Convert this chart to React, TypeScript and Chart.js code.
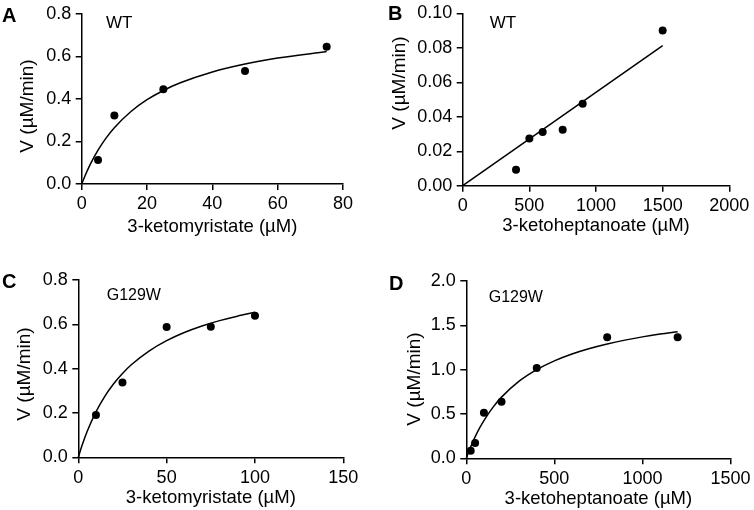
import React, { useEffect, useRef } from "react";
import { Chart, registerables } from "chart.js";
Chart.register(...registerables);

// Panel A: WT, 3-ketomyristate
const aSubstrate = [5, 10, 25, 50, 75];
const aRate = [0.113, 0.322, 0.446, 0.532, 0.646];
const aFitX = [0, 1, 2, 3, 5, 7.5, 10, 15, 20, 25, 30, 40, 50, 60, 75];
const aFitY = [0, 0.038, 0.0725, 0.104, 0.1593, 0.217, 0.265, 0.3402, 0.3965, 0.4402, 0.4751, 0.5273, 0.5646, 0.5925, 0.6233];

// Panel B: WT, 3-ketoheptanoate
const bSubstrate = [400, 500, 600, 750, 900, 1500];
const bRate = [0.0093, 0.0274, 0.0312, 0.0325, 0.0476, 0.0902];
const bFitX = [0, 1500];
const bFitY = [0, 0.0813];

// Panel C: G129W, 3-ketomyristate
const cSubstrate = [10, 25, 50, 75, 100];
const cRate = [0.191, 0.338, 0.588, 0.589, 0.639];
const cFitX = [0, 2, 5, 10, 15, 20, 25, 30, 40, 50, 60, 70, 80, 90, 100];
const cFitY = [0, 0.0507, 0.1164, 0.2052, 0.2752, 0.3317, 0.3783, 0.4174, 0.4793, 0.5262, 0.5629, 0.5924, 0.6166, 0.6369, 0.654];

// Panel D: G129W, 3-ketoheptanoate
const dSubstrate = [25, 50, 100, 200, 400, 800, 1200];
const dRate = [0.0865, 0.173, 0.515, 0.639, 1.019, 1.365, 1.365];
const dFitX = [0, 10, 25, 50, 75, 100, 150, 200, 300, 400, 500, 600, 700, 800, 900, 1000, 1100, 1200];
const dFitY = [0, 0.054, 0.1292, 0.2412, 0.3392, 0.4258, 0.5717, 0.69, 0.8698, 1.0, 1.099, 1.1764, 1.2388, 1.2901, 1.3331, 1.3696, 1.4009, 1.4282];

// Axis ranges / ticks
const aXTicks = { min: 0, max: 80, step: 20 };
const aYTicks = { min: 0, max: 0.8, step: 0.2, dec: 1 };
const bXTicks = { min: 0, max: 2000, step: 500 };
const bYTicks = { min: 0, max: 0.1, step: 0.02, dec: 2 };
const cXTicks = { min: 0, max: 150, step: 50 };
const cYTicks = { min: 0, max: 0.8, step: 0.2, dec: 1 };
const dXTicks = { min: 0, max: 1500, step: 500 };
const dYTicks = { min: 0, max: 2.0, step: 0.5, dec: 1 };

const yTitle = "V (µM/min)";
const xTitleMyr = "3-ketomyristate (µM)";
const xTitleHep = "3-ketoheptanoate (µM)";

const FONT = '"Liberation Sans", Arial, Helvetica, sans-serif';
const W = 377;
const H = 255;

const textPlugin = {
  id: "panelText",
  afterDraw(chart: any, _args: any, o: any) {
    const ctx = chart.ctx;
    const ca = chart.chartArea;
    ctx.save();
    ctx.fillStyle = "#000";
    ctx.textAlign = "left";
    ctx.textBaseline = "alphabetic";
    ctx.font = `bold 20px ${FONT}`;
    ctx.fillText(o.letter, o.letterX, o.letterY);
    ctx.font = `${o.labelSize}px ${FONT}`;
    ctx.fillText(o.label, o.labelX, o.labelY);
    ctx.textAlign = "center";
    ctx.textBaseline = "middle";
    ctx.font = `18.5px ${FONT}`;
    ctx.fillText(o.xTitle, (ca.left + ca.right) / 2, o.xTitleY);
    ctx.font = `19px ${FONT}`;
    ctx.translate(o.yTitleX, o.yTitleY);
    ctx.rotate(-Math.PI / 2);
    ctx.fillText(o.yTitle, 0, 0);
    ctx.restore();
  },
};

type PanelDef = {
  left: number;
  top: number;
  area: { l: number; r: number; t: number; b: number };
  xs: number[];
  ys: number[];
  fx: number[];
  fy: number[];
  xt: { min: number; max: number; step: number };
  yt: { min: number; max: number; step: number; dec: number };
  text: any;
};

const panels: PanelDef[] = [
  {
    left: 0, top: 0,
    area: { l: 81.7, r: 343, t: 14, b: 184 },
    xs: aSubstrate, ys: aRate, fx: aFitX, fy: aFitY, xt: aXTicks, yt: aYTicks,
    text: { letter: "A", letterX: 2, letterY: 22, label: "WT", labelSize: 17, labelX: 106, labelY: 28.3, xTitle: xTitleMyr, xTitleY: 226.5, yTitle, yTitleX: 28, yTitleY: 106 },
  },
  {
    left: 377, top: 0,
    area: { l: 85.7, r: 352.3, t: 9.3, b: 185.7 },
    xs: bSubstrate, ys: bRate, fx: bFitX, fy: bFitY, xt: bXTicks, yt: bYTicks,
    text: { letter: "B", letterX: 11, letterY: 19.5, label: "WT", labelSize: 17, labelX: 112.7, labelY: 28.3, xTitle: xTitleHep, xTitleY: 226, yTitle, yTitleX: 22.5, yTitleY: 83 },
  },
  {
    left: 0, top: 255,
    area: { l: 78.3, r: 343.3, t: 25, b: 202.3 },
    xs: cSubstrate, ys: cRate, fx: cFitX, fy: cFitY, xt: cXTicks, yt: cYTicks,
    text: { letter: "C", letterX: 2, letterY: 32.5, label: "G129W", labelSize: 16, labelX: 106.7, labelY: 45, xTitle: xTitleMyr, xTitleY: 243, yTitle, yTitleX: 25, yTitleY: 119 },
  },
  {
    left: 377, top: 255,
    area: { l: 89.3, r: 355, t: 26, b: 203.3 },
    xs: dSubstrate, ys: dRate, fx: dFitX, fy: dFitY, xt: dXTicks, yt: dYTicks,
    text: { letter: "D", letterX: 12, letterY: 35, label: "G129W", labelSize: 16, labelX: 111.7, labelY: 46.7, xTitle: xTitleHep, xTitleY: 244, yTitle, yTitleX: 37.5, yTitleY: 124 },
  },
];

function Panel({ p }: { p: PanelDef }) {
  const ref = useRef<HTMLCanvasElement | null>(null);
  useEffect(() => {
    if (!ref.current) return;
    const points = p.xs.map((x, i) => ({ x, y: p.ys[i] }));
    const fit = p.fx.map((x, i) => ({ x, y: p.fy[i] }));
    const chart = new Chart(ref.current, {
      type: "scatter",
      data: {
        datasets: [
          {
            data: points,
            backgroundColor: "#000",
            borderColor: "#000",
            pointRadius: 4,
            pointBorderWidth: 0,
            showLine: false,
            clip: false as any,
          },
          {
            data: fit,
            borderColor: "#000",
            borderWidth: 1.5,
            pointRadius: 0,
            showLine: true,
            tension: 0.4,
            cubicInterpolationMode: "monotone",
            fill: false,
            clip: false as any,
          } as any,
        ],
      },
      options: {
        animation: false,
        responsive: false,
        devicePixelRatio: 1,
        layout: { padding: { left: 0, top: p.area.t, right: W - p.area.r, bottom: 0 } },
        plugins: {
          legend: { display: false },
          tooltip: { enabled: false },
          panelText: p.text,
        } as any,
        scales: {
          x: {
            type: "linear",
            min: p.xt.min,
            max: p.xt.max,
            ticks: {
              stepSize: p.xt.step,
              autoSkip: false,
              maxRotation: 0,
              color: "#000",
              padding: 3.5,
              font: { family: FONT, size: 18 },
              callback: (v: any) => String(v),
            },
            grid: { drawOnChartArea: false, drawTicks: true, tickLength: 6, color: "#000", lineWidth: 1.5 },
            border: { display: true, color: "#000", width: 1.5 },
            afterFit: (s: any) => { s.height = H - p.area.b; },
          },
          y: {
            type: "linear",
            min: p.yt.min,
            max: p.yt.max,
            ticks: {
              stepSize: p.yt.step,
              autoSkip: false,
              color: "#000",
              padding: 4.5,
              font: { family: FONT, size: 18, lineHeight: 1 },
              callback: (v: any) => Number(v).toFixed(p.yt.dec),
            },
            grid: { drawOnChartArea: false, drawTicks: true, tickLength: 6, color: "#000", lineWidth: 1.5 },
            border: { display: true, color: "#000", width: 1.5 },
            afterFit: (s: any) => { s.width = p.area.l; },
          },
        } as any,
      },
      plugins: [textPlugin as any],
    });
    return () => chart.destroy();
  }, [p]);
  return (
    <div style={{ position: "absolute", left: p.left, top: p.top, width: W, height: H }}>
      <canvas ref={ref} width={W} height={H} style={{ width: W, height: H, display: "block" }} />
    </div>
  );
}

export default function App() {
  return (
    <div style={{ position: "absolute", left: 0, top: 0, width: 754, height: 510, background: "#fff" }}>
      {panels.map((p, i) => (
        <Panel key={i} p={p} />
      ))}
    </div>
  );
}
